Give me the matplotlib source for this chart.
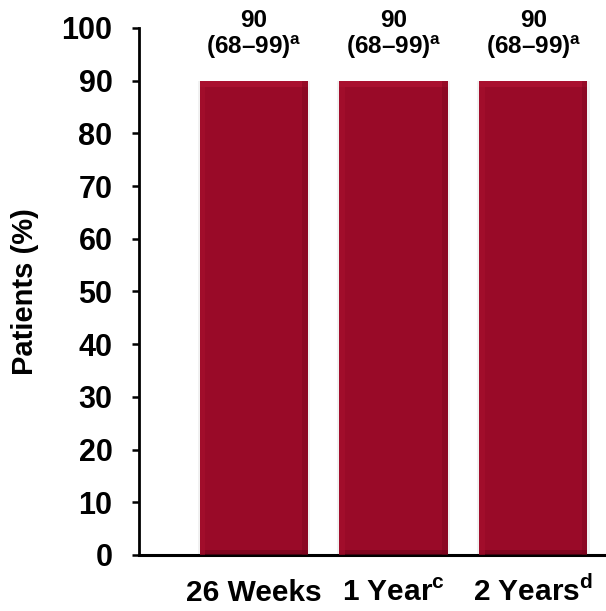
import matplotlib
matplotlib.use("Agg")
import matplotlib.pyplot as plt
import numpy as np

### Police et mathtext en gras
plt.rcParams['font.family'] = ['Liberation Sans', 'DejaVu Sans']
plt.rcParams['font.weight'] = 'bold'
plt.rcParams['mathtext.fontset'] = 'custom'
plt.rcParams['mathtext.rm'] = 'Liberation Sans:bold'
plt.rcParams['mathtext.bf'] = 'Liberation Sans:bold'

### Données
categories = ['26 Weeks', '1 Year$^{\\mathbf{c}}$', '2 Years$^{\\mathbf{d}}$']
values = [90, 90, 90]
ci_labels = ['(68–99)$^{\\mathbf{a}}$', '(68–99)$^{\\mathbf{a}}$', '(68–99)$^{\\mathbf{a}}$']
yticks = [0, 10, 20, 30, 40, 50, 60, 70, 80, 90, 100]

### Couleurs
rouge = '#990a28'
rouge_clair = '#a9102f'
rouge_fonce = '#72021a'

fig = plt.figure(figsize=(6.06, 6.11), dpi=100)
ax = fig.add_axes([0.229, 0.0917, 0.771, 0.8625])

x = np.arange(len(categories))
w = 0.775

# ombre légère autour des barres
ax.bar(x, values, width=w + 0.03, color='#d9d9d9', alpha=0.35, zorder=1)
ax.bar(x, values, width=w, color=rouge, zorder=2)
# biseau : bord haut clair, bord bas foncé
ax.bar(x, [1.2] * len(x), bottom=np.array(values) - 1.2, width=w, color=rouge_clair, zorder=3)
ax.bar(x, [1.0] * len(x), width=w, color=rouge_fonce, alpha=0.6, zorder=3)
ax.bar(x - w / 2 + 0.02, values, width=0.04, color=rouge_clair, alpha=0.5, zorder=3)
ax.bar(x + w / 2 - 0.02, values, width=0.04, color=rouge_fonce, alpha=0.35, zorder=3)

# valeurs et intervalles au-dessus des barres
for xi, v, ci in zip(x, values, ci_labels):
    ax.annotate(ci, (xi, v), xytext=(0, 19), textcoords='offset points',
                ha='center', va='baseline', fontsize=17.5, fontweight='bold',
                annotation_clip=False)
    ax.annotate(str(v), (xi, v), xytext=(0, 38.5), textcoords='offset points',
                ha='center', va='baseline', fontsize=17.5, fontweight='bold',
                annotation_clip=False)

ax.set_xlim(-0.824, 2.52)
ax.set_ylim(0, 100)
ax.set_yticks(yticks)
ax.set_xticks(x)
ax.set_xticklabels(categories, fontsize=21.5, fontweight='bold')
for lab in ax.get_xticklabels():
    lab.set_verticalalignment('baseline')
ax.tick_params(axis='x', length=0, pad=33)
ax.tick_params(axis='y', length=5, width=1.8, pad=14, labelsize=22)
for lab in ax.get_yticklabels():
    lab.set_fontweight('bold')

ax.set_ylabel('Patients (%)', fontsize=21, fontweight='bold', labelpad=16)

ax.spines['top'].set_visible(False)
ax.spines['right'].set_visible(False)
ax.spines['left'].set_linewidth(2)
ax.spines['bottom'].set_linewidth(2.2)

fig.savefig('out.png', dpi=100)
